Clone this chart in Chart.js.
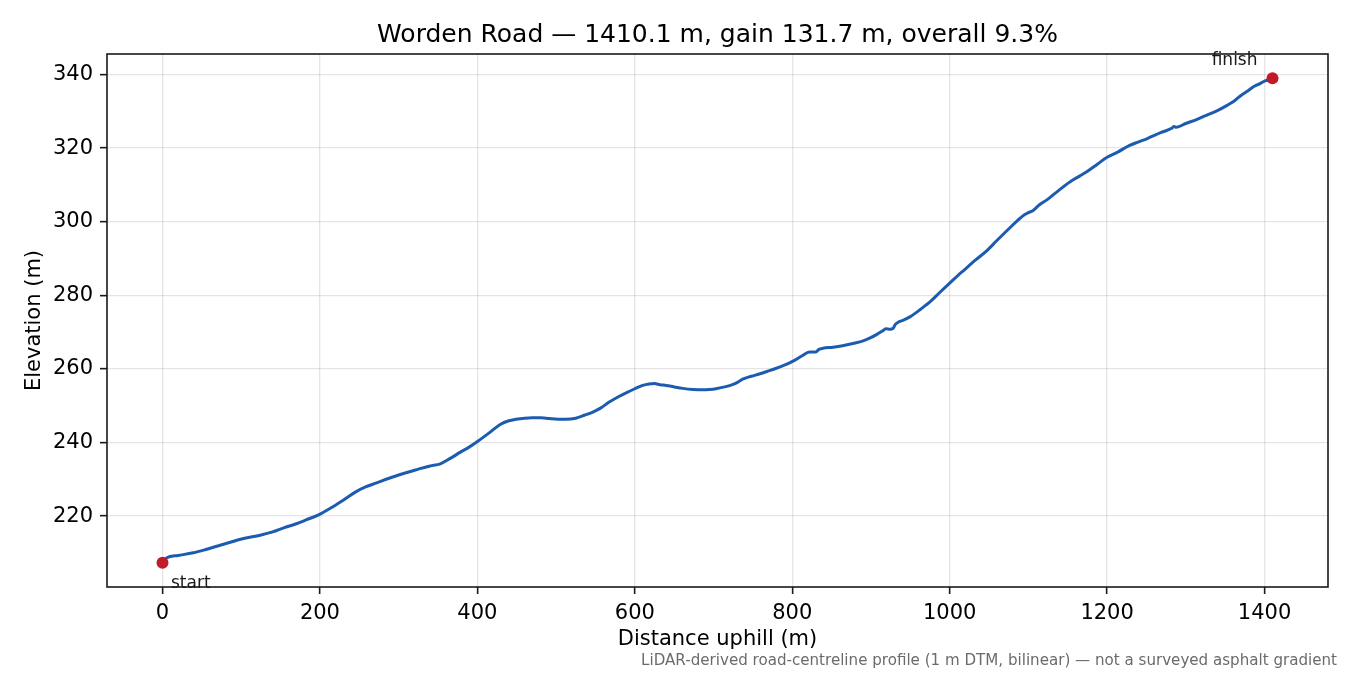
<!DOCTYPE html>
<html>
<head>
<meta charset="utf-8">
<title>Worden Road profile</title>
<script src="https://cdn.jsdelivr.net/npm/chart.js@4.4.0/dist/chart.umd.min.js"></script>
<style>
  html, body { margin: 0; padding: 0; background: #ffffff; }
  #wrap { width: 1350px; height: 675px; }
</style>
</head>
<body>
<div id="wrap"><canvas id="profileChart" width="1350" height="675"></canvas></div>
<script>
// ===========================
// DATA
// ===========================
const distance = [
  0, 5, 20, 39, 55, 69, 85, 103, 124, 140, 154, 170, 183, 199, 217, 231, 245, 258, 272, 287,
  302, 315, 327, 340, 353, 365, 378, 390, 401, 415, 429, 440, 449, 460, 470, 481, 491, 502, 512, 525,
  536, 546, 557, 567, 578, 589, 600, 610, 618, 625, 632, 640, 650, 661, 674, 686, 695, 703, 714, 724,
  731, 737, 748, 758, 768, 779, 790, 801, 812, 822, 830, 834, 839, 852, 864, 877, 890, 899, 907, 914,
  919, 924, 928, 931, 934, 942, 950, 963, 976, 988, 1000, 1010, 1018, 1033, 1048, 1060, 1073, 1084, 1095, 1100,
  1105, 1114, 1124, 1139, 1154, 1165, 1175, 1188, 1200, 1214, 1228, 1240, 1251, 1268, 1282, 1285, 1288, 1300, 1315, 1328,
  1340, 1353, 1362, 1370, 1379, 1387, 1393, 1400, 1405, 1410.1
];
const elevation = [
  207.3, 208.6, 209.3, 210.0, 210.9, 211.8, 212.8, 213.9, 214.8, 215.7, 216.8, 217.9, 219.0, 220.4, 222.6, 224.5, 226.5, 227.9, 229.0, 230.2,
  231.3, 232.1, 232.9, 233.6, 234.2, 235.6, 237.3, 238.8, 240.4, 242.6, 244.9, 245.9, 246.3, 246.6, 246.7, 246.7, 246.5, 246.3, 246.3, 246.6,
  247.4, 248.2, 249.4, 250.9, 252.3, 253.5, 254.6, 255.5, 255.9, 256.0, 255.7, 255.5, 255.1, 254.7, 254.4, 254.3, 254.4, 254.6, 255.1, 255.7,
  256.4, 257.2, 258.0, 258.6, 259.3, 260.1, 261.0, 262.1, 263.5, 264.6, 264.6, 265.3, 265.6, 265.9, 266.3, 266.9, 267.6, 268.4, 269.3, 270.2,
  270.9, 270.8, 271.0, 272.1, 272.6, 273.3, 274.2, 276.2, 278.4, 280.9, 283.3, 285.3, 286.8, 289.6, 292.3, 294.9, 297.6, 299.9, 301.9, 302.5,
  302.9, 304.6, 306.0, 308.6, 311.0, 312.4, 313.7, 315.7, 317.5, 319.0, 320.7, 321.7, 322.6, 324.2, 325.4, 325.9, 325.7, 326.7, 327.9, 329.1,
  330.2, 331.7, 332.9, 334.3, 335.6, 336.8, 337.4, 338.2, 338.5, 339.0
];
const endpointLabels = ['start', 'finish'];
const xTicks = [0, 200, 400, 600, 800, 1000, 1200, 1400];
const yTicks = [220, 240, 260, 280, 300, 320, 340];

const titleText = 'Worden Road \u2014 1410.1 m, gain 131.7 m, overall 9.3%';
const footnoteText = 'LiDAR-derived road-centreline profile (1 m DTM, bilinear) \u2014 not a surveyed asphalt gradient';

// ===========================
// DERIVED
// ===========================
const profilePoints = distance.map((d, i) => ({ x: d, y: elevation[i] }));
const last = distance.length - 1;
const endpointPoints = [
  { x: distance[0], y: elevation[0] },
  { x: distance[last], y: elevation[last] }
];
const xSpan = distance[last] - distance[0];
const ySpan = Math.max(...elevation) - Math.min(...elevation);
const xMin = distance[0] - 0.05 * xSpan;
const xMax = distance[last] + 0.05 * xSpan;
const yMin = Math.min(...elevation) - 0.05 * ySpan;
const yMax = Math.max(...elevation) + 0.05 * ySpan;

const FONT = 'DejaVu Sans';
const LINE_BLUE = '#1c5cb0';
const DOT_RED = '#c01c28';

// ===========================
// PLUGIN — frame, title, labels, footnote
// ===========================
const decorPlugin = {
  id: 'decor',
  afterDraw(chart) {
    const { ctx, chartArea } = chart;
    const xs = chart.scales.x;
    const ys = chart.scales.y;
    ctx.save();

    // point labels
    ctx.fillStyle = '#1a1a1a';
    ctx.font = `17px "${FONT}"`;
    ctx.textBaseline = 'alphabetic';
    ctx.textAlign = 'left';
    ctx.fillText(endpointLabels[0],
      xs.getPixelForValue(endpointPoints[0].x) + 8.5,
      ys.getPixelForValue(endpointPoints[0].y) + 25);
    ctx.textAlign = 'right';
    ctx.fillText(endpointLabels[1],
      xs.getPixelForValue(endpointPoints[1].x) - 15,
      ys.getPixelForValue(endpointPoints[1].y) - 13);

    // frame
    ctx.strokeStyle = '#1a1a1a';
    ctx.lineWidth = 1.6;
    ctx.strokeRect(chartArea.left, chartArea.top,
      chartArea.right - chartArea.left, chartArea.bottom - chartArea.top);

    // title
    ctx.fillStyle = '#000000';
    ctx.font = `25px "${FONT}"`;
    ctx.textAlign = 'center';
    ctx.fillText(titleText, (chartArea.left + chartArea.right) / 2, 42);

    // footnote
    ctx.fillStyle = '#6b6b6b';
    ctx.font = `15.1px "${FONT}"`;
    ctx.textAlign = 'right';
    ctx.fillText(footnoteText, 1337, 665);

    ctx.restore();
  }
};

// ===========================
// CHART
// ===========================
const profileCtx = document.getElementById('profileChart').getContext('2d');

new Chart(profileCtx, {
  type: 'line',
  data: {
    datasets: [{
      label: 'endpoints',
      data: endpointPoints,
      showLine: false,
      pointRadius: 6,
      pointBackgroundColor: DOT_RED,
      pointBorderColor: DOT_RED,
      pointBorderWidth: 0
    }, {
      label: 'profile',
      data: profilePoints,
      borderColor: LINE_BLUE,
      borderWidth: 3,
      pointRadius: 0,
      cubicInterpolationMode: 'monotone',
      fill: false
    }]
  },
  plugins: [decorPlugin],
  options: {
    responsive: false,
    animation: false,
    devicePixelRatio: 1,
    layout: { padding: { left: 0, right: 22, top: 54, bottom: 0 } },
    scales: {
      x: {
        type: 'linear',
        min: xMin,
        max: xMax,
        afterFit: scale => { scale.height = 88; },
        afterBuildTicks: scale => { scale.ticks = xTicks.map(v => ({ value: v })); },
        grid: {
          color: 'rgba(0,0,0,0.1)',
          lineWidth: 1.3,
          tickColor: '#1a1a1a',
          tickLength: 7,
          tickWidth: 1.6
        },
        border: { display: false },
        ticks: {
          color: '#000000',
          padding: 7,
          maxRotation: 0,
          font: { size: 21, family: FONT },
          callback: v => String(v)
        },
        title: {
          display: true,
          text: 'Distance uphill (m)',
          color: '#000000',
          font: { size: 21, family: FONT },
          padding: { top: 0, bottom: 23 }
        }
      },
      y: {
        type: 'linear',
        min: yMin,
        max: yMax,
        afterFit: scale => { scale.width = 107; },
        afterBuildTicks: scale => { scale.ticks = yTicks.map(v => ({ value: v })); },
        grid: {
          color: 'rgba(0,0,0,0.1)',
          lineWidth: 1.3,
          tickColor: '#1a1a1a',
          tickLength: 7,
          tickWidth: 1.6
        },
        border: { display: false },
        ticks: {
          color: '#000000',
          padding: 7,
          font: { size: 21, family: FONT },
          callback: v => String(v)
        },
        title: {
          display: true,
          text: 'Elevation (m)',
          color: '#000000',
          font: { size: 21, family: FONT },
          padding: { top: 22, bottom: 0 }
        }
      }
    },
    plugins: {
      legend: { display: false },
      title: { display: false },
      tooltip: { enabled: false }
    }
  }
});
</script>
</body>
</html>
